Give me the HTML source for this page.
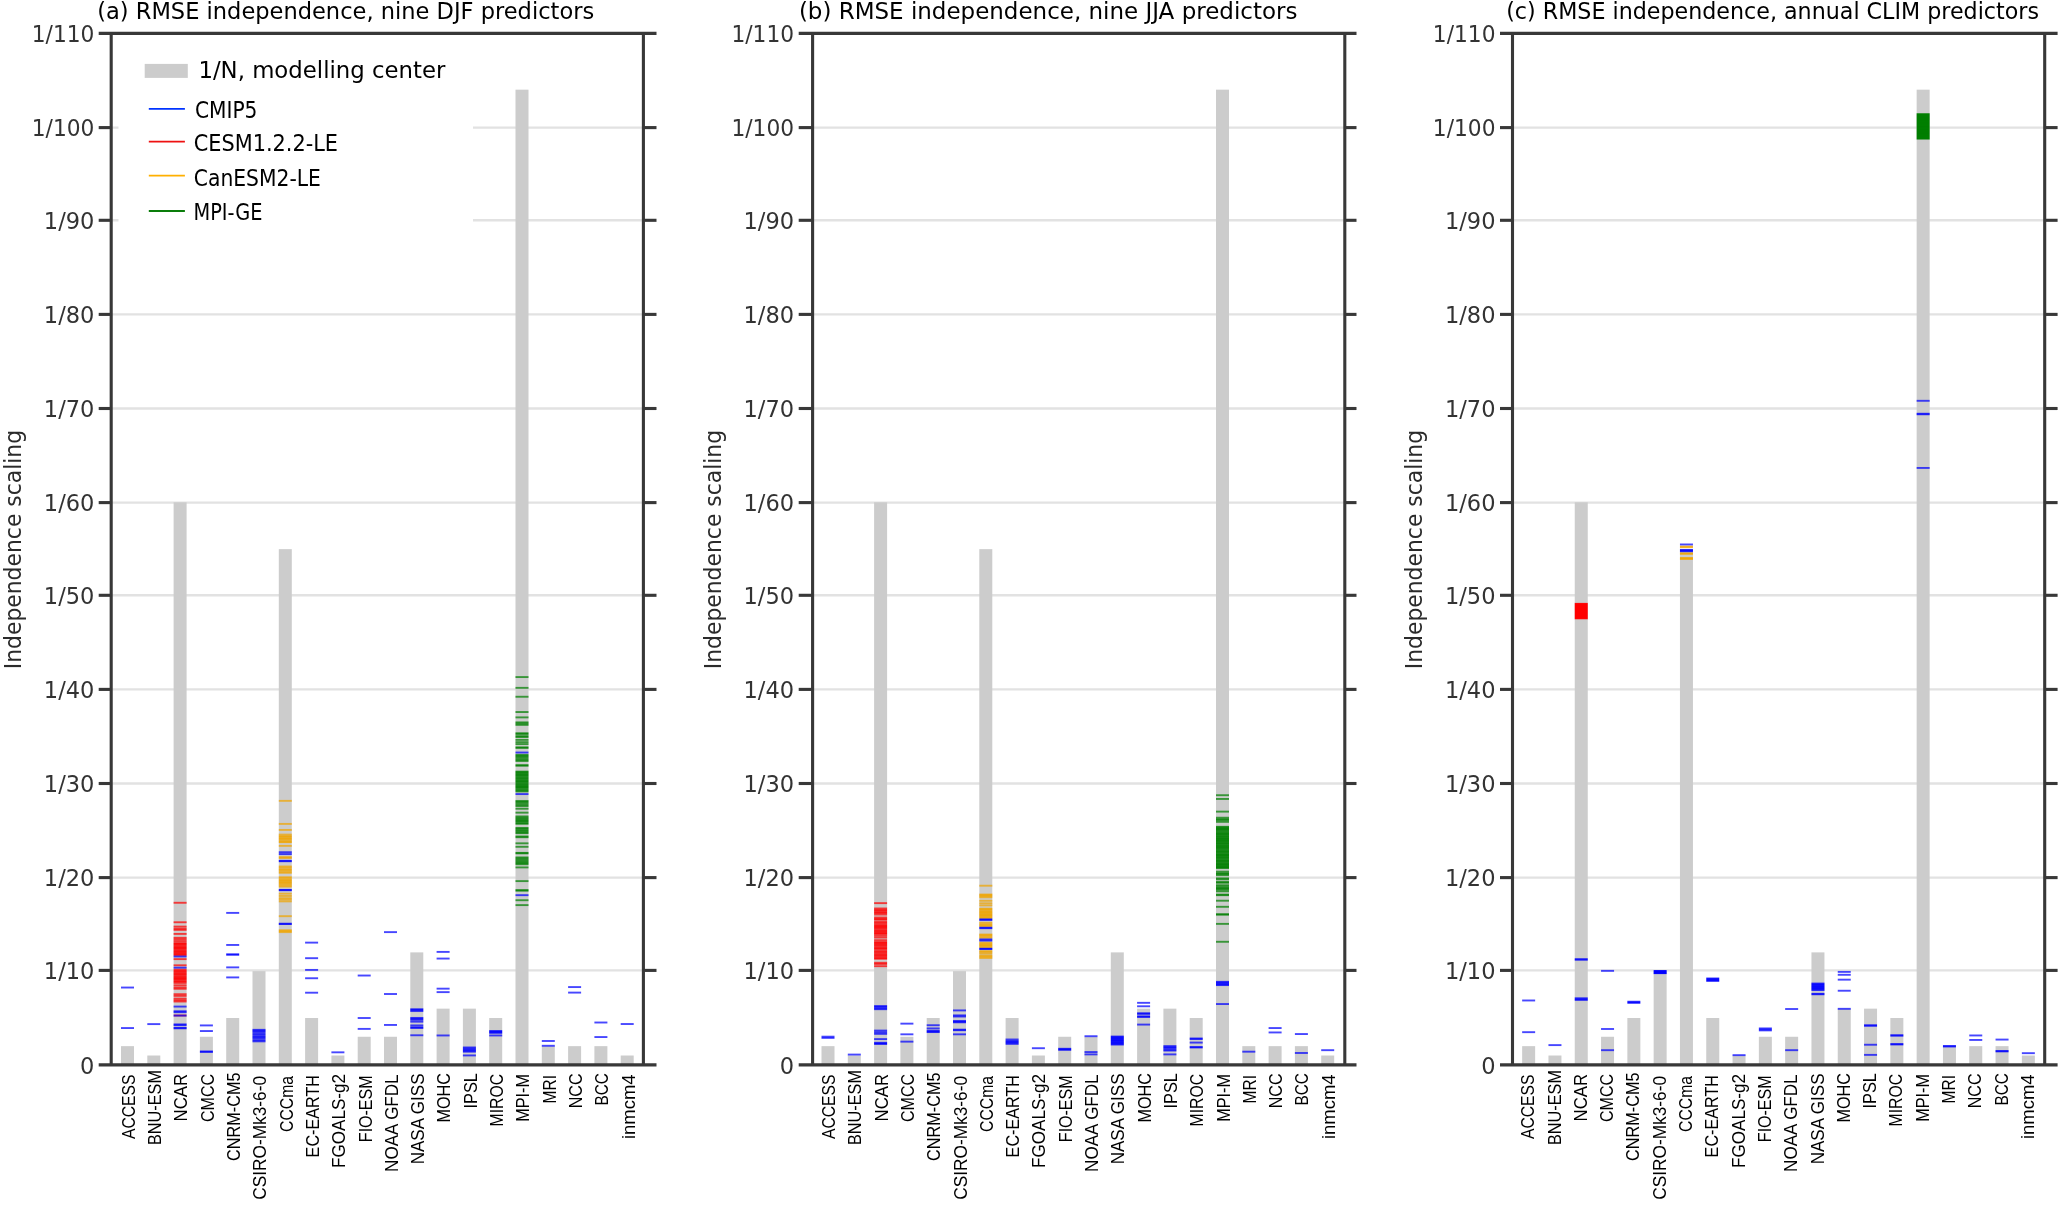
<!DOCTYPE html>
<html lang="en"><head><meta charset="utf-8"><title>RMSE independence scaling</title>
<style>html,body{margin:0;padding:0;background:#fff;overflow:hidden;}svg{display:block;will-change:transform;font-family:"Liberation Sans",Arial,Helvetica,sans-serif;}.t{font-family:"DejaVu Sans","Liberation Sans",sans-serif;font-size:23.2px;fill:#000;}.yl{font-family:"DejaVu Sans","Liberation Sans",sans-serif;font-size:22.9px;fill:#2b2b2b;}.yt{font-family:"DejaVu Sans","Liberation Sans",sans-serif;font-size:23.6px;fill:#333;text-anchor:end;}.xt{font-size:19px;fill:#000;text-anchor:end;}.lg{font-family:"DejaVu Sans","Liberation Sans",sans-serif;font-size:22.8px;fill:#000;}</style></head><body>
<svg width="2067" height="1205" viewBox="0 0 2067 1205">
<rect width="2067" height="1205" fill="#fff"/>
<g>
<line x1="111.2" y1="970.4" x2="643.4" y2="970.4" stroke="#e2e2e2" stroke-width="2.4"/>
<line x1="111.2" y1="877.6" x2="643.4" y2="877.6" stroke="#e2e2e2" stroke-width="2.4"/>
<line x1="111.2" y1="783.5" x2="643.4" y2="783.5" stroke="#e2e2e2" stroke-width="2.4"/>
<line x1="111.2" y1="689.4" x2="643.4" y2="689.4" stroke="#e2e2e2" stroke-width="2.4"/>
<line x1="111.2" y1="595.3" x2="643.4" y2="595.3" stroke="#e2e2e2" stroke-width="2.4"/>
<line x1="111.2" y1="502.6" x2="643.4" y2="502.6" stroke="#e2e2e2" stroke-width="2.4"/>
<line x1="111.2" y1="408.5" x2="643.4" y2="408.5" stroke="#e2e2e2" stroke-width="2.4"/>
<line x1="111.2" y1="314.4" x2="643.4" y2="314.4" stroke="#e2e2e2" stroke-width="2.4"/>
<line x1="111.2" y1="220.3" x2="643.4" y2="220.3" stroke="#e2e2e2" stroke-width="2.4"/>
<line x1="111.2" y1="127.6" x2="643.4" y2="127.6" stroke="#e2e2e2" stroke-width="2.4"/>
<rect x="118.5" y="40" width="354.5" height="200" fill="#fff"/>
<rect x="121" y="1046.15" width="13" height="18.75" fill="#cccccc"/>
<rect x="147.3" y="1055.52" width="13" height="9.38" fill="#cccccc"/>
<rect x="173.6" y="502.26" width="13" height="562.64" fill="#cccccc"/>
<rect x="199.9" y="1036.77" width="13" height="28.13" fill="#cccccc"/>
<rect x="226.2" y="1018.01" width="13" height="46.89" fill="#cccccc"/>
<rect x="252.5" y="971.13" width="13" height="93.77" fill="#cccccc"/>
<rect x="278.8" y="549.15" width="13" height="515.75" fill="#cccccc"/>
<rect x="305.1" y="1018.01" width="13" height="46.89" fill="#cccccc"/>
<rect x="331.4" y="1055.52" width="13" height="9.38" fill="#cccccc"/>
<rect x="357.7" y="1036.77" width="13" height="28.13" fill="#cccccc"/>
<rect x="384" y="1036.77" width="13" height="28.13" fill="#cccccc"/>
<rect x="410.3" y="952.37" width="13" height="112.53" fill="#cccccc"/>
<rect x="436.6" y="1008.64" width="13" height="56.26" fill="#cccccc"/>
<rect x="462.9" y="1008.64" width="13" height="56.26" fill="#cccccc"/>
<rect x="489.2" y="1018.01" width="13" height="46.89" fill="#cccccc"/>
<rect x="515.5" y="89.66" width="13" height="975.24" fill="#cccccc"/>
<rect x="541.8" y="1046.15" width="13" height="18.75" fill="#cccccc"/>
<rect x="568.1" y="1046.15" width="13" height="18.75" fill="#cccccc"/>
<rect x="594.4" y="1046.15" width="13" height="18.75" fill="#cccccc"/>
<rect x="620.7" y="1055.52" width="13" height="9.38" fill="#cccccc"/>
<mask id="m0" maskUnits="userSpaceOnUse" x="0" y="0" width="2067" height="1205">
<rect x="121" y="0" width="13" height="1205" fill="#fff"/>
<rect x="147.3" y="0" width="13" height="1205" fill="#fff"/>
<rect x="173.6" y="0" width="13" height="1205" fill="#fff"/>
<rect x="199.9" y="0" width="13" height="1205" fill="#fff"/>
<rect x="226.2" y="0" width="13" height="1205" fill="#fff"/>
<rect x="252.5" y="0" width="13" height="1205" fill="#fff"/>
<rect x="278.8" y="0" width="13" height="1205" fill="#fff"/>
<rect x="305.1" y="0" width="13" height="1205" fill="#fff"/>
<rect x="331.4" y="0" width="13" height="1205" fill="#fff"/>
<rect x="357.7" y="0" width="13" height="1205" fill="#fff"/>
<rect x="384" y="0" width="13" height="1205" fill="#fff"/>
<rect x="410.3" y="0" width="13" height="1205" fill="#fff"/>
<rect x="436.6" y="0" width="13" height="1205" fill="#fff"/>
<rect x="462.9" y="0" width="13" height="1205" fill="#fff"/>
<rect x="489.2" y="0" width="13" height="1205" fill="#fff"/>
<rect x="515.5" y="0" width="13" height="1205" fill="#fff"/>
<rect x="541.8" y="0" width="13" height="1205" fill="#fff"/>
<rect x="568.1" y="0" width="13" height="1205" fill="#fff"/>
<rect x="594.4" y="0" width="13" height="1205" fill="#fff"/>
<rect x="620.7" y="0" width="13" height="1205" fill="#fff"/>
</mask>
<g mask="url(#m0)">
<g fill="#0000ff" fill-opacity="0.72">
<rect x="120" y="986.59" width="15" height="1.9"/>
<rect x="120" y="1027.1" width="15" height="1.9"/>
</g>
<g fill="#0000ff" fill-opacity="0.72">
<rect x="146" y="1023.16" width="16" height="1.9"/>
</g>
<g fill="#ff0000" fill-opacity="0.72">
<rect x="172" y="901.82" width="16" height="1.9"/>
<rect x="172" y="921.32" width="16" height="1.9"/>
<rect x="172" y="928.92" width="16" height="1.9"/>
<rect x="172" y="927.68" width="16" height="1.9"/>
<rect x="172" y="925.64" width="16" height="1.9"/>
<rect x="172" y="932.95" width="16" height="1.9"/>
<rect x="172" y="940.17" width="16" height="1.9"/>
<rect x="172" y="938.39" width="16" height="1.9"/>
<rect x="172" y="936.86" width="16" height="1.9"/>
<rect x="172" y="954.24" width="16" height="1.9"/>
<rect x="172" y="953.29" width="16" height="1.9"/>
<rect x="172" y="952.66" width="16" height="1.9"/>
<rect x="172" y="951.47" width="16" height="1.9"/>
<rect x="172" y="950.77" width="16" height="1.9"/>
<rect x="172" y="949.82" width="16" height="1.9"/>
<rect x="172" y="948.66" width="16" height="1.9"/>
<rect x="172" y="947.46" width="16" height="1.9"/>
<rect x="172" y="946.98" width="16" height="1.9"/>
<rect x="172" y="945.98" width="16" height="1.9"/>
<rect x="172" y="944.77" width="16" height="1.9"/>
<rect x="172" y="943.63" width="16" height="1.9"/>
<rect x="172" y="942.93" width="16" height="1.9"/>
<rect x="172" y="942.11" width="16" height="1.9"/>
<rect x="172" y="958.17" width="16" height="1.9"/>
<rect x="172" y="964.36" width="16" height="1.9"/>
<rect x="172" y="980.53" width="16" height="1.9"/>
<rect x="172" y="980.17" width="16" height="1.9"/>
<rect x="172" y="978.58" width="16" height="1.9"/>
<rect x="172" y="977.97" width="16" height="1.9"/>
<rect x="172" y="977.06" width="16" height="1.9"/>
<rect x="172" y="976.06" width="16" height="1.9"/>
<rect x="172" y="974.91" width="16" height="1.9"/>
<rect x="172" y="973.53" width="16" height="1.9"/>
<rect x="172" y="972.97" width="16" height="1.9"/>
<rect x="172" y="971.67" width="16" height="1.9"/>
<rect x="172" y="970.61" width="16" height="1.9"/>
<rect x="172" y="969.78" width="16" height="1.9"/>
<rect x="172" y="968.68" width="16" height="1.9"/>
<rect x="172" y="987.81" width="16" height="1.9"/>
<rect x="172" y="986.47" width="16" height="1.9"/>
<rect x="172" y="984.33" width="16" height="1.9"/>
<rect x="172" y="981.99" width="16" height="1.9"/>
<rect x="172" y="993.25" width="16" height="1.9"/>
<rect x="172" y="994.93" width="16" height="1.9"/>
<rect x="172" y="1000.56" width="16" height="1.9"/>
<rect x="172" y="999.3" width="16" height="1.9"/>
<rect x="172" y="997.65" width="16" height="1.9"/>
<rect x="172" y="1014.53" width="16" height="1.9"/>
</g>
<g fill="#0000ff" fill-opacity="0.72">
<rect x="172" y="955.55" width="16" height="1.9"/>
<rect x="172" y="966.71" width="16" height="1.9"/>
<rect x="172" y="1005.62" width="16" height="1.9"/>
<rect x="172" y="1010.31" width="16" height="1.9"/>
<rect x="172" y="1011.25" width="16" height="1.9"/>
<rect x="172" y="1014.63" width="16" height="1.9"/>
<rect x="172" y="1023.44" width="16" height="1.9"/>
<rect x="172" y="1024.19" width="16" height="1.9"/>
<rect x="172" y="1026.91" width="16" height="1.9"/>
<rect x="172" y="1027.38" width="16" height="1.9"/>
</g>
<g fill="#0000ff" fill-opacity="0.72">
<rect x="198" y="1024.47" width="16" height="1.9"/>
<rect x="198" y="1030.1" width="16" height="1.9"/>
<rect x="198" y="1050.54" width="16" height="1.9"/>
<rect x="198" y="1050.92" width="16" height="1.9"/>
</g>
<g fill="#0000ff" fill-opacity="0.72">
<rect x="225" y="911.94" width="16" height="1.9"/>
<rect x="225" y="944.01" width="16" height="1.9"/>
<rect x="225" y="953.49" width="16" height="1.9"/>
<rect x="225" y="953.67" width="16" height="1.9"/>
<rect x="225" y="966.43" width="16" height="1.9"/>
<rect x="225" y="976.46" width="16" height="1.9"/>
</g>
<g fill="#0000ff" fill-opacity="0.72">
<rect x="251" y="1040.41" width="16" height="1.9"/>
<rect x="251" y="1039.29" width="16" height="1.9"/>
<rect x="251" y="1037.54" width="16" height="1.9"/>
<rect x="251" y="1036.32" width="16" height="1.9"/>
<rect x="251" y="1035.44" width="16" height="1.9"/>
<rect x="251" y="1033.83" width="16" height="1.9"/>
<rect x="251" y="1032.58" width="16" height="1.9"/>
<rect x="251" y="1030.95" width="16" height="1.9"/>
<rect x="251" y="1029.78" width="16" height="1.9"/>
<rect x="251" y="1028.88" width="16" height="1.9"/>
</g>
<g fill="#f0a500" fill-opacity="0.72">
<rect x="277" y="799.89" width="16" height="1.9"/>
<rect x="277" y="822.95" width="16" height="1.9"/>
<rect x="277" y="828.96" width="16" height="1.9"/>
<rect x="277" y="841.23" width="16" height="1.9"/>
<rect x="277" y="840.78" width="16" height="1.9"/>
<rect x="277" y="839.4" width="16" height="1.9"/>
<rect x="277" y="837.99" width="16" height="1.9"/>
<rect x="277" y="837.34" width="16" height="1.9"/>
<rect x="277" y="835.93" width="16" height="1.9"/>
<rect x="277" y="835.15" width="16" height="1.9"/>
<rect x="277" y="833.64" width="16" height="1.9"/>
<rect x="277" y="844.9" width="16" height="1.9"/>
<rect x="277" y="856.15" width="16" height="1.9"/>
<rect x="277" y="857.09" width="16" height="1.9"/>
<rect x="277" y="871.85" width="16" height="1.9"/>
<rect x="277" y="870.71" width="16" height="1.9"/>
<rect x="277" y="869.12" width="16" height="1.9"/>
<rect x="277" y="868.32" width="16" height="1.9"/>
<rect x="277" y="866.66" width="16" height="1.9"/>
<rect x="277" y="865.53" width="16" height="1.9"/>
<rect x="277" y="885.62" width="16" height="1.9"/>
<rect x="277" y="884.55" width="16" height="1.9"/>
<rect x="277" y="883.06" width="16" height="1.9"/>
<rect x="277" y="881.81" width="16" height="1.9"/>
<rect x="277" y="881.02" width="16" height="1.9"/>
<rect x="277" y="879.69" width="16" height="1.9"/>
<rect x="277" y="879.02" width="16" height="1.9"/>
<rect x="277" y="877.32" width="16" height="1.9"/>
<rect x="277" y="876.31" width="16" height="1.9"/>
<rect x="277" y="900.43" width="16" height="1.9"/>
<rect x="277" y="898.58" width="16" height="1.9"/>
<rect x="277" y="897.26" width="16" height="1.9"/>
<rect x="277" y="895" width="16" height="1.9"/>
<rect x="277" y="892.72" width="16" height="1.9"/>
<rect x="277" y="915.23" width="16" height="1.9"/>
<rect x="277" y="929.29" width="16" height="1.9"/>
<rect x="277" y="930.23" width="16" height="1.9"/>
<rect x="277" y="931.17" width="16" height="1.9"/>
</g>
<g fill="#0000ff" fill-opacity="0.72">
<rect x="277" y="851.27" width="16" height="1.9"/>
<rect x="277" y="853.15" width="16" height="1.9"/>
<rect x="277" y="859.9" width="16" height="1.9"/>
<rect x="277" y="860.28" width="16" height="1.9"/>
<rect x="277" y="888.97" width="16" height="1.9"/>
<rect x="277" y="889.25" width="16" height="1.9"/>
<rect x="277" y="922.73" width="16" height="1.9"/>
<rect x="277" y="923.1" width="16" height="1.9"/>
</g>
<g fill="#0000ff" fill-opacity="0.72">
<rect x="304" y="941.67" width="16" height="1.9"/>
<rect x="304" y="957.24" width="16" height="1.9"/>
<rect x="304" y="968.96" width="16" height="1.9"/>
<rect x="304" y="977.3" width="16" height="1.9"/>
<rect x="304" y="991.75" width="16" height="1.9"/>
</g>
<g fill="#0000ff" fill-opacity="0.72">
<rect x="330" y="1051.38" width="16" height="1.9"/>
</g>
<g fill="#0000ff" fill-opacity="0.72">
<rect x="356" y="974.58" width="16" height="1.9"/>
<rect x="356" y="1017.06" width="16" height="1.9"/>
<rect x="356" y="1027.94" width="16" height="1.9"/>
</g>
<g fill="#0000ff" fill-opacity="0.72">
<rect x="383" y="931.17" width="15" height="1.9"/>
<rect x="383" y="993.06" width="15" height="1.9"/>
<rect x="383" y="1024" width="15" height="1.9"/>
</g>
<g fill="#0000ff" fill-opacity="0.72">
<rect x="409" y="1008.25" width="16" height="1.9"/>
<rect x="409" y="1009" width="16" height="1.9"/>
<rect x="409" y="1010.12" width="16" height="1.9"/>
<rect x="409" y="1016.97" width="16" height="1.9"/>
<rect x="409" y="1017.81" width="16" height="1.9"/>
<rect x="409" y="1018.85" width="16" height="1.9"/>
<rect x="409" y="1020.72" width="16" height="1.9"/>
<rect x="409" y="1024.47" width="16" height="1.9"/>
<rect x="409" y="1026.35" width="16" height="1.9"/>
<rect x="409" y="1027" width="16" height="1.9"/>
<rect x="409" y="1034.32" width="16" height="1.9"/>
</g>
<g fill="#0000ff" fill-opacity="0.72">
<rect x="435" y="950.95" width="16" height="1.9"/>
<rect x="435" y="957.61" width="16" height="1.9"/>
<rect x="435" y="987.71" width="16" height="1.9"/>
<rect x="435" y="991.18" width="16" height="1.9"/>
<rect x="435" y="1034.51" width="16" height="1.9"/>
</g>
<g fill="#0000ff" fill-opacity="0.72">
<rect x="461" y="1046.51" width="16" height="1.9"/>
<rect x="461" y="1047.63" width="16" height="1.9"/>
<rect x="461" y="1048.85" width="16" height="1.9"/>
<rect x="461" y="1049.79" width="16" height="1.9"/>
<rect x="461" y="1050.73" width="16" height="1.9"/>
<rect x="461" y="1054.48" width="16" height="1.9"/>
</g>
<g fill="#0000ff" fill-opacity="0.72">
<rect x="488" y="1030.1" width="16" height="1.9"/>
<rect x="488" y="1030.57" width="16" height="1.9"/>
<rect x="488" y="1031.32" width="16" height="1.9"/>
<rect x="488" y="1031.88" width="16" height="1.9"/>
<rect x="488" y="1034.51" width="16" height="1.9"/>
</g>
<g fill="#008000" fill-opacity="0.72">
<rect x="514" y="676.11" width="16" height="1.9"/>
<rect x="514" y="686.89" width="16" height="1.9"/>
<rect x="514" y="695.8" width="16" height="1.9"/>
<rect x="514" y="711.08" width="16" height="1.9"/>
<rect x="514" y="716.43" width="16" height="1.9"/>
<rect x="514" y="723.93" width="16" height="1.9"/>
<rect x="514" y="722.56" width="16" height="1.9"/>
<rect x="514" y="721.44" width="16" height="1.9"/>
<rect x="514" y="736.12" width="16" height="1.9"/>
<rect x="514" y="735.15" width="16" height="1.9"/>
<rect x="514" y="733.04" width="16" height="1.9"/>
<rect x="514" y="732.27" width="16" height="1.9"/>
<rect x="514" y="743.15" width="16" height="1.9"/>
<rect x="514" y="741.2" width="16" height="1.9"/>
<rect x="514" y="738.93" width="16" height="1.9"/>
<rect x="514" y="746.44" width="16" height="1.9"/>
<rect x="514" y="746.9" width="16" height="1.9"/>
<rect x="514" y="760.03" width="16" height="1.9"/>
<rect x="514" y="758.86" width="16" height="1.9"/>
<rect x="514" y="757.55" width="16" height="1.9"/>
<rect x="514" y="756.05" width="16" height="1.9"/>
<rect x="514" y="754.88" width="16" height="1.9"/>
<rect x="514" y="753.94" width="16" height="1.9"/>
<rect x="514" y="764.25" width="16" height="1.9"/>
<rect x="514" y="764.72" width="16" height="1.9"/>
<rect x="514" y="790.51" width="16" height="1.9"/>
<rect x="514" y="789.61" width="16" height="1.9"/>
<rect x="514" y="788.68" width="16" height="1.9"/>
<rect x="514" y="787.37" width="16" height="1.9"/>
<rect x="514" y="786.36" width="16" height="1.9"/>
<rect x="514" y="785.94" width="16" height="1.9"/>
<rect x="514" y="784.97" width="16" height="1.9"/>
<rect x="514" y="783.97" width="16" height="1.9"/>
<rect x="514" y="783.01" width="16" height="1.9"/>
<rect x="514" y="781.88" width="16" height="1.9"/>
<rect x="514" y="780.85" width="16" height="1.9"/>
<rect x="514" y="780.11" width="16" height="1.9"/>
<rect x="514" y="779.32" width="16" height="1.9"/>
<rect x="514" y="778.08" width="16" height="1.9"/>
<rect x="514" y="777.16" width="16" height="1.9"/>
<rect x="514" y="776.06" width="16" height="1.9"/>
<rect x="514" y="774.84" width="16" height="1.9"/>
<rect x="514" y="774.06" width="16" height="1.9"/>
<rect x="514" y="773.22" width="16" height="1.9"/>
<rect x="514" y="772.19" width="16" height="1.9"/>
<rect x="514" y="771.19" width="16" height="1.9"/>
<rect x="514" y="770.65" width="16" height="1.9"/>
<rect x="514" y="805.12" width="16" height="1.9"/>
<rect x="514" y="803.83" width="16" height="1.9"/>
<rect x="514" y="802.33" width="16" height="1.9"/>
<rect x="514" y="801" width="16" height="1.9"/>
<rect x="514" y="799.99" width="16" height="1.9"/>
<rect x="514" y="807.76" width="16" height="1.9"/>
<rect x="514" y="811.7" width="16" height="1.9"/>
<rect x="514" y="822.86" width="16" height="1.9"/>
<rect x="514" y="822.09" width="16" height="1.9"/>
<rect x="514" y="820.62" width="16" height="1.9"/>
<rect x="514" y="819.97" width="16" height="1.9"/>
<rect x="514" y="818.9" width="16" height="1.9"/>
<rect x="514" y="817.72" width="16" height="1.9"/>
<rect x="514" y="816.68" width="16" height="1.9"/>
<rect x="514" y="815.48" width="16" height="1.9"/>
<rect x="514" y="832.24" width="16" height="1.9"/>
<rect x="514" y="831.51" width="16" height="1.9"/>
<rect x="514" y="830.26" width="16" height="1.9"/>
<rect x="514" y="829.18" width="16" height="1.9"/>
<rect x="514" y="827.84" width="16" height="1.9"/>
<rect x="514" y="826.98" width="16" height="1.9"/>
<rect x="514" y="835.52" width="16" height="1.9"/>
<rect x="514" y="836.27" width="16" height="1.9"/>
<rect x="514" y="842.37" width="16" height="1.9"/>
<rect x="514" y="845.83" width="16" height="1.9"/>
<rect x="514" y="851.93" width="16" height="1.9"/>
<rect x="514" y="852.4" width="16" height="1.9"/>
<rect x="514" y="863.32" width="16" height="1.9"/>
<rect x="514" y="862.3" width="16" height="1.9"/>
<rect x="514" y="861.46" width="16" height="1.9"/>
<rect x="514" y="860.12" width="16" height="1.9"/>
<rect x="514" y="858.78" width="16" height="1.9"/>
<rect x="514" y="857.52" width="16" height="1.9"/>
<rect x="514" y="856.48" width="16" height="1.9"/>
<rect x="514" y="866.46" width="16" height="1.9"/>
<rect x="514" y="880.16" width="16" height="1.9"/>
<rect x="514" y="889.16" width="16" height="1.9"/>
<rect x="514" y="889.72" width="16" height="1.9"/>
<rect x="514" y="899.29" width="16" height="1.9"/>
<rect x="514" y="904.16" width="16" height="1.9"/>
</g>
<g fill="#0000ff" fill-opacity="0.72">
<rect x="514" y="751.59" width="16" height="1.9"/>
<rect x="514" y="793.13" width="16" height="1.9"/>
<rect x="514" y="894.22" width="16" height="1.9"/>
</g>
<g fill="#0000ff" fill-opacity="0.72">
<rect x="540" y="1040.04" width="16" height="1.9"/>
<rect x="540" y="1044.82" width="16" height="1.9"/>
</g>
<g fill="#0000ff" fill-opacity="0.72">
<rect x="567" y="986.12" width="16" height="1.9"/>
<rect x="567" y="991.65" width="16" height="1.9"/>
</g>
<g fill="#0000ff" fill-opacity="0.72">
<rect x="593" y="1021.56" width="16" height="1.9"/>
<rect x="593" y="1036.1" width="16" height="1.9"/>
</g>
<g fill="#0000ff" fill-opacity="0.72">
<rect x="619" y="1023.07" width="16" height="1.9"/>
</g>
</g>
<g stroke="#383838" stroke-width="3.1" fill="none">
<line x1="98.7" y1="33.4" x2="656.5" y2="33.4"/>
<line x1="98.7" y1="1064.9" x2="656.5" y2="1064.9"/>
<line x1="111.2" y1="33.4" x2="111.2" y2="1064.9"/>
<line x1="643.4" y1="33.4" x2="643.4" y2="1064.9"/>
<line x1="98.7" y1="970.4" x2="111.2" y2="970.4"/>
<line x1="643.4" y1="970.4" x2="656.5" y2="970.4"/>
<line x1="98.7" y1="877.6" x2="111.2" y2="877.6"/>
<line x1="643.4" y1="877.6" x2="656.5" y2="877.6"/>
<line x1="98.7" y1="783.5" x2="111.2" y2="783.5"/>
<line x1="643.4" y1="783.5" x2="656.5" y2="783.5"/>
<line x1="98.7" y1="689.4" x2="111.2" y2="689.4"/>
<line x1="643.4" y1="689.4" x2="656.5" y2="689.4"/>
<line x1="98.7" y1="595.3" x2="111.2" y2="595.3"/>
<line x1="643.4" y1="595.3" x2="656.5" y2="595.3"/>
<line x1="98.7" y1="502.6" x2="111.2" y2="502.6"/>
<line x1="643.4" y1="502.6" x2="656.5" y2="502.6"/>
<line x1="98.7" y1="408.5" x2="111.2" y2="408.5"/>
<line x1="643.4" y1="408.5" x2="656.5" y2="408.5"/>
<line x1="98.7" y1="314.4" x2="111.2" y2="314.4"/>
<line x1="643.4" y1="314.4" x2="656.5" y2="314.4"/>
<line x1="98.7" y1="220.3" x2="111.2" y2="220.3"/>
<line x1="643.4" y1="220.3" x2="656.5" y2="220.3"/>
<line x1="98.7" y1="127.6" x2="111.2" y2="127.6"/>
<line x1="643.4" y1="127.6" x2="656.5" y2="127.6"/>
</g>
<text class="yt" transform="translate(94.4,1073.5) scale(0.955,1)">0</text>
<text class="yt" transform="translate(94.4,979) scale(0.955,1)">1/10</text>
<text class="yt" transform="translate(94.4,886.2) scale(0.955,1)">1/20</text>
<text class="yt" transform="translate(94.4,792.1) scale(0.955,1)">1/30</text>
<text class="yt" transform="translate(94.4,698) scale(0.955,1)">1/40</text>
<text class="yt" transform="translate(94.4,603.9) scale(0.955,1)">1/50</text>
<text class="yt" transform="translate(94.4,511.2) scale(0.955,1)">1/60</text>
<text class="yt" transform="translate(94.4,417.1) scale(0.955,1)">1/70</text>
<text class="yt" transform="translate(94.4,323) scale(0.955,1)">1/80</text>
<text class="yt" transform="translate(94.4,228.9) scale(0.955,1)">1/90</text>
<text class="yt" transform="translate(94.4,136.2) scale(0.922,1)">1/100</text>
<text class="yt" transform="translate(94.4,42) scale(0.922,1)">1/110</text>
<text class="xt" transform="translate(134.8,1074.5) rotate(-90)" textLength="64.59" lengthAdjust="spacingAndGlyphs">ACCESS</text>
<text class="xt" transform="translate(161.1,1070) rotate(-90)" textLength="75.04" lengthAdjust="spacingAndGlyphs">BNU-ESM</text>
<text class="xt" transform="translate(187.4,1074) rotate(-90)" textLength="47.48" lengthAdjust="spacingAndGlyphs">NCAR</text>
<text class="xt" transform="translate(213.7,1074) rotate(-90)" textLength="48.03" lengthAdjust="spacingAndGlyphs">CMCC</text>
<text class="xt" transform="translate(240,1072.5) rotate(-90)" textLength="88.39" lengthAdjust="spacingAndGlyphs">CNRM-CM5</text>
<text class="xt" transform="translate(266.3,1076) rotate(-90)" textLength="123.79" lengthAdjust="spacingAndGlyphs">CSIRO-Mk3-6-0</text>
<text class="xt" transform="translate(292.6,1076) rotate(-90)" textLength="55.99" lengthAdjust="spacingAndGlyphs">CCCma</text>
<text class="xt" transform="translate(318.9,1075) rotate(-90)" textLength="82.4" lengthAdjust="spacingAndGlyphs">EC-EARTH</text>
<text class="xt" transform="translate(345.2,1074) rotate(-90)" textLength="94" lengthAdjust="spacingAndGlyphs">FGOALS-g2</text>
<text class="xt" transform="translate(371.5,1075.5) rotate(-90)" textLength="66.63" lengthAdjust="spacingAndGlyphs">FIO-ESM</text>
<text class="xt" transform="translate(397.8,1074.5) rotate(-90)" textLength="97.39" lengthAdjust="spacingAndGlyphs">NOAA GFDL</text>
<text class="xt" transform="translate(424.1,1073.5) rotate(-90)" textLength="90.84" lengthAdjust="spacingAndGlyphs">NASA GISS</text>
<text class="xt" transform="translate(450.4,1073) rotate(-90)" textLength="49.6" lengthAdjust="spacingAndGlyphs">MOHC</text>
<text class="xt" transform="translate(476.7,1073) rotate(-90)" textLength="35.62" lengthAdjust="spacingAndGlyphs">IPSL</text>
<text class="xt" transform="translate(503,1074) rotate(-90)" textLength="52.45" lengthAdjust="spacingAndGlyphs">MIROC</text>
<text class="xt" transform="translate(529.3,1074) rotate(-90)" textLength="47.82" lengthAdjust="spacingAndGlyphs">MPI-M</text>
<text class="xt" transform="translate(555.6,1075) rotate(-90)" textLength="28.47" lengthAdjust="spacingAndGlyphs">MRI</text>
<text class="xt" transform="translate(581.9,1073.5) rotate(-90)" textLength="34.85" lengthAdjust="spacingAndGlyphs">NCC</text>
<text class="xt" transform="translate(608.2,1073) rotate(-90)" textLength="32.57" lengthAdjust="spacingAndGlyphs">BCC</text>
<text class="xt" transform="translate(634.5,1074.5) rotate(-90)" textLength="64.59" lengthAdjust="spacingAndGlyphs">inmcm4</text>
<text class="yl" transform="translate(21.2,669.3) rotate(-90)" textLength="239.4" lengthAdjust="spacingAndGlyphs">Independence scaling</text>
<text class="t" x="97.2" y="18.9" textLength="497" lengthAdjust="spacingAndGlyphs">(a) RMSE independence, nine DJF predictors</text>
</g>
<g>
<line x1="812.6" y1="970.4" x2="1344.8" y2="970.4" stroke="#e2e2e2" stroke-width="2.4"/>
<line x1="812.6" y1="877.6" x2="1344.8" y2="877.6" stroke="#e2e2e2" stroke-width="2.4"/>
<line x1="812.6" y1="783.5" x2="1344.8" y2="783.5" stroke="#e2e2e2" stroke-width="2.4"/>
<line x1="812.6" y1="689.4" x2="1344.8" y2="689.4" stroke="#e2e2e2" stroke-width="2.4"/>
<line x1="812.6" y1="595.3" x2="1344.8" y2="595.3" stroke="#e2e2e2" stroke-width="2.4"/>
<line x1="812.6" y1="502.6" x2="1344.8" y2="502.6" stroke="#e2e2e2" stroke-width="2.4"/>
<line x1="812.6" y1="408.5" x2="1344.8" y2="408.5" stroke="#e2e2e2" stroke-width="2.4"/>
<line x1="812.6" y1="314.4" x2="1344.8" y2="314.4" stroke="#e2e2e2" stroke-width="2.4"/>
<line x1="812.6" y1="220.3" x2="1344.8" y2="220.3" stroke="#e2e2e2" stroke-width="2.4"/>
<line x1="812.6" y1="127.6" x2="1344.8" y2="127.6" stroke="#e2e2e2" stroke-width="2.4"/>
<rect x="821.5" y="1046.15" width="13" height="18.75" fill="#cccccc"/>
<rect x="847.8" y="1055.52" width="13" height="9.38" fill="#cccccc"/>
<rect x="874.1" y="502.26" width="13" height="562.64" fill="#cccccc"/>
<rect x="900.4" y="1036.77" width="13" height="28.13" fill="#cccccc"/>
<rect x="926.7" y="1018.01" width="13" height="46.89" fill="#cccccc"/>
<rect x="953" y="971.13" width="13" height="93.77" fill="#cccccc"/>
<rect x="979.3" y="549.15" width="13" height="515.75" fill="#cccccc"/>
<rect x="1005.6" y="1018.01" width="13" height="46.89" fill="#cccccc"/>
<rect x="1031.9" y="1055.52" width="13" height="9.38" fill="#cccccc"/>
<rect x="1058.2" y="1036.77" width="13" height="28.13" fill="#cccccc"/>
<rect x="1084.5" y="1036.77" width="13" height="28.13" fill="#cccccc"/>
<rect x="1110.8" y="952.37" width="13" height="112.53" fill="#cccccc"/>
<rect x="1137.1" y="1008.64" width="13" height="56.26" fill="#cccccc"/>
<rect x="1163.4" y="1008.64" width="13" height="56.26" fill="#cccccc"/>
<rect x="1189.7" y="1018.01" width="13" height="46.89" fill="#cccccc"/>
<rect x="1216" y="89.66" width="13" height="975.24" fill="#cccccc"/>
<rect x="1242.3" y="1046.15" width="13" height="18.75" fill="#cccccc"/>
<rect x="1268.6" y="1046.15" width="13" height="18.75" fill="#cccccc"/>
<rect x="1294.9" y="1046.15" width="13" height="18.75" fill="#cccccc"/>
<rect x="1321.2" y="1055.52" width="13" height="9.38" fill="#cccccc"/>
<mask id="m1" maskUnits="userSpaceOnUse" x="0" y="0" width="2067" height="1205">
<rect x="821.5" y="0" width="13" height="1205" fill="#fff"/>
<rect x="847.8" y="0" width="13" height="1205" fill="#fff"/>
<rect x="874.1" y="0" width="13" height="1205" fill="#fff"/>
<rect x="900.4" y="0" width="13" height="1205" fill="#fff"/>
<rect x="926.7" y="0" width="13" height="1205" fill="#fff"/>
<rect x="953" y="0" width="13" height="1205" fill="#fff"/>
<rect x="979.3" y="0" width="13" height="1205" fill="#fff"/>
<rect x="1005.6" y="0" width="13" height="1205" fill="#fff"/>
<rect x="1031.9" y="0" width="13" height="1205" fill="#fff"/>
<rect x="1058.2" y="0" width="13" height="1205" fill="#fff"/>
<rect x="1084.5" y="0" width="13" height="1205" fill="#fff"/>
<rect x="1110.8" y="0" width="13" height="1205" fill="#fff"/>
<rect x="1137.1" y="0" width="13" height="1205" fill="#fff"/>
<rect x="1163.4" y="0" width="13" height="1205" fill="#fff"/>
<rect x="1189.7" y="0" width="13" height="1205" fill="#fff"/>
<rect x="1216" y="0" width="13" height="1205" fill="#fff"/>
<rect x="1242.3" y="0" width="13" height="1205" fill="#fff"/>
<rect x="1268.6" y="0" width="13" height="1205" fill="#fff"/>
<rect x="1294.9" y="0" width="13" height="1205" fill="#fff"/>
<rect x="1321.2" y="0" width="13" height="1205" fill="#fff"/>
</mask>
<g mask="url(#m1)">
<g fill="#0000ff" fill-opacity="0.72">
<rect x="820" y="1035.72" width="16" height="1.9"/>
<rect x="820" y="1036.94" width="16" height="1.9"/>
</g>
<g fill="#0000ff" fill-opacity="0.72">
<rect x="846" y="1053.63" width="16" height="1.9"/>
</g>
<g fill="#ff0000" fill-opacity="0.72">
<rect x="873" y="902.19" width="16" height="1.9"/>
<rect x="873" y="913.58" width="16" height="1.9"/>
<rect x="873" y="912.1" width="16" height="1.9"/>
<rect x="873" y="911.25" width="16" height="1.9"/>
<rect x="873" y="909.88" width="16" height="1.9"/>
<rect x="873" y="908.9" width="16" height="1.9"/>
<rect x="873" y="907.54" width="16" height="1.9"/>
<rect x="873" y="922.07" width="16" height="1.9"/>
<rect x="873" y="920.82" width="16" height="1.9"/>
<rect x="873" y="918.73" width="16" height="1.9"/>
<rect x="873" y="917.93" width="16" height="1.9"/>
<rect x="873" y="916.57" width="16" height="1.9"/>
<rect x="873" y="933.02" width="16" height="1.9"/>
<rect x="873" y="932.33" width="16" height="1.9"/>
<rect x="873" y="931.62" width="16" height="1.9"/>
<rect x="873" y="930.37" width="16" height="1.9"/>
<rect x="873" y="929.75" width="16" height="1.9"/>
<rect x="873" y="928.43" width="16" height="1.9"/>
<rect x="873" y="927.15" width="16" height="1.9"/>
<rect x="873" y="926.25" width="16" height="1.9"/>
<rect x="873" y="925.39" width="16" height="1.9"/>
<rect x="873" y="924.71" width="16" height="1.9"/>
<rect x="873" y="923.66" width="16" height="1.9"/>
<rect x="873" y="939.23" width="16" height="1.9"/>
<rect x="873" y="936.61" width="16" height="1.9"/>
<rect x="873" y="934.82" width="16" height="1.9"/>
<rect x="873" y="948.04" width="16" height="1.9"/>
<rect x="873" y="947.34" width="16" height="1.9"/>
<rect x="873" y="946.4" width="16" height="1.9"/>
<rect x="873" y="944.96" width="16" height="1.9"/>
<rect x="873" y="943.82" width="16" height="1.9"/>
<rect x="873" y="942.89" width="16" height="1.9"/>
<rect x="873" y="941.91" width="16" height="1.9"/>
<rect x="873" y="941.11" width="16" height="1.9"/>
<rect x="873" y="957.79" width="16" height="1.9"/>
<rect x="873" y="957.03" width="16" height="1.9"/>
<rect x="873" y="955.61" width="16" height="1.9"/>
<rect x="873" y="954.57" width="16" height="1.9"/>
<rect x="873" y="953.66" width="16" height="1.9"/>
<rect x="873" y="952.48" width="16" height="1.9"/>
<rect x="873" y="951.1" width="16" height="1.9"/>
<rect x="873" y="949.93" width="16" height="1.9"/>
<rect x="873" y="965.24" width="16" height="1.9"/>
<rect x="873" y="963.01" width="16" height="1.9"/>
<rect x="873" y="961.81" width="16" height="1.9"/>
</g>
<g fill="#0000ff" fill-opacity="0.72">
<rect x="873" y="1005.06" width="16" height="1.9"/>
<rect x="873" y="1006" width="16" height="1.9"/>
<rect x="873" y="1007.41" width="16" height="1.9"/>
<rect x="873" y="1008.25" width="16" height="1.9"/>
<rect x="873" y="1029.63" width="16" height="1.9"/>
<rect x="873" y="1031.32" width="16" height="1.9"/>
<rect x="873" y="1032.91" width="16" height="1.9"/>
<rect x="873" y="1038.16" width="16" height="1.9"/>
<rect x="873" y="1041.82" width="16" height="1.9"/>
<rect x="873" y="1042.57" width="16" height="1.9"/>
<rect x="873" y="1042.94" width="16" height="1.9"/>
</g>
<g fill="#0000ff" fill-opacity="0.72">
<rect x="899" y="1022.69" width="16" height="1.9"/>
<rect x="899" y="1033.38" width="16" height="1.9"/>
<rect x="899" y="1040.69" width="16" height="1.9"/>
</g>
<g fill="#0000ff" fill-opacity="0.72">
<rect x="925" y="1024.28" width="16" height="1.9"/>
<rect x="925" y="1027.47" width="16" height="1.9"/>
<rect x="925" y="1029.82" width="16" height="1.9"/>
<rect x="925" y="1030.57" width="16" height="1.9"/>
<rect x="925" y="1031.13" width="16" height="1.9"/>
</g>
<g fill="#0000ff" fill-opacity="0.72">
<rect x="952" y="1009.47" width="15" height="1.9"/>
<rect x="952" y="1014.44" width="15" height="1.9"/>
<rect x="952" y="1015.56" width="15" height="1.9"/>
<rect x="952" y="1020.06" width="15" height="1.9"/>
<rect x="952" y="1020.72" width="15" height="1.9"/>
<rect x="952" y="1021.38" width="15" height="1.9"/>
<rect x="952" y="1028.69" width="15" height="1.9"/>
<rect x="952" y="1029.25" width="15" height="1.9"/>
<rect x="952" y="1033.38" width="15" height="1.9"/>
</g>
<g fill="#f0a500" fill-opacity="0.72">
<rect x="978" y="884.75" width="16" height="1.9"/>
<rect x="978" y="896.33" width="16" height="1.9"/>
<rect x="978" y="895.23" width="16" height="1.9"/>
<rect x="978" y="894.2" width="16" height="1.9"/>
<rect x="978" y="893.57" width="16" height="1.9"/>
<rect x="978" y="904.44" width="16" height="1.9"/>
<rect x="978" y="902.36" width="16" height="1.9"/>
<rect x="978" y="899.83" width="16" height="1.9"/>
<rect x="978" y="917.1" width="16" height="1.9"/>
<rect x="978" y="916.08" width="16" height="1.9"/>
<rect x="978" y="914.96" width="16" height="1.9"/>
<rect x="978" y="914.07" width="16" height="1.9"/>
<rect x="978" y="913.36" width="16" height="1.9"/>
<rect x="978" y="912.31" width="16" height="1.9"/>
<rect x="978" y="911.28" width="16" height="1.9"/>
<rect x="978" y="910.81" width="16" height="1.9"/>
<rect x="978" y="909.49" width="16" height="1.9"/>
<rect x="978" y="908.39" width="16" height="1.9"/>
<rect x="978" y="907.72" width="16" height="1.9"/>
<rect x="978" y="925.32" width="16" height="1.9"/>
<rect x="978" y="924.31" width="16" height="1.9"/>
<rect x="978" y="923.32" width="16" height="1.9"/>
<rect x="978" y="921.79" width="16" height="1.9"/>
<rect x="978" y="936.79" width="16" height="1.9"/>
<rect x="978" y="935.47" width="16" height="1.9"/>
<rect x="978" y="934.24" width="16" height="1.9"/>
<rect x="978" y="933.59" width="16" height="1.9"/>
<rect x="978" y="946.92" width="16" height="1.9"/>
<rect x="978" y="945.49" width="16" height="1.9"/>
<rect x="978" y="944.57" width="16" height="1.9"/>
<rect x="978" y="943.91" width="16" height="1.9"/>
<rect x="978" y="942.85" width="16" height="1.9"/>
<rect x="978" y="941.75" width="16" height="1.9"/>
<rect x="978" y="957.01" width="16" height="1.9"/>
<rect x="978" y="955.67" width="16" height="1.9"/>
<rect x="978" y="954.89" width="16" height="1.9"/>
<rect x="978" y="952.76" width="16" height="1.9"/>
<rect x="978" y="951.16" width="16" height="1.9"/>
<rect x="978" y="950.2" width="16" height="1.9"/>
</g>
<g fill="#0000ff" fill-opacity="0.72">
<rect x="978" y="918.41" width="16" height="1.9"/>
<rect x="978" y="918.98" width="16" height="1.9"/>
<rect x="978" y="926.76" width="16" height="1.9"/>
<rect x="978" y="927.23" width="16" height="1.9"/>
<rect x="978" y="938.48" width="16" height="1.9"/>
<rect x="978" y="939.61" width="16" height="1.9"/>
<rect x="978" y="947.77" width="16" height="1.9"/>
<rect x="978" y="948.05" width="16" height="1.9"/>
</g>
<g fill="#0000ff" fill-opacity="0.72">
<rect x="1004" y="1042.94" width="16" height="1.9"/>
<rect x="1004" y="1041.81" width="16" height="1.9"/>
<rect x="1004" y="1041.03" width="16" height="1.9"/>
<rect x="1004" y="1040.01" width="16" height="1.9"/>
<rect x="1004" y="1038.54" width="16" height="1.9"/>
</g>
<g fill="#0000ff" fill-opacity="0.72">
<rect x="1030" y="1047.26" width="16" height="1.9"/>
</g>
<g fill="#0000ff" fill-opacity="0.72">
<rect x="1057" y="1047.82" width="16" height="1.9"/>
<rect x="1057" y="1048.38" width="16" height="1.9"/>
<rect x="1057" y="1048.85" width="16" height="1.9"/>
</g>
<g fill="#0000ff" fill-opacity="0.72">
<rect x="1083" y="1035.26" width="16" height="1.9"/>
<rect x="1083" y="1051.1" width="16" height="1.9"/>
<rect x="1083" y="1053.45" width="16" height="1.9"/>
</g>
<g fill="#0000ff" fill-opacity="0.72">
<rect x="1109" y="1043.62" width="16" height="1.9"/>
<rect x="1109" y="1042.93" width="16" height="1.9"/>
<rect x="1109" y="1041.97" width="16" height="1.9"/>
<rect x="1109" y="1041.48" width="16" height="1.9"/>
<rect x="1109" y="1040.5" width="16" height="1.9"/>
<rect x="1109" y="1039.77" width="16" height="1.9"/>
<rect x="1109" y="1039.35" width="16" height="1.9"/>
<rect x="1109" y="1038.57" width="16" height="1.9"/>
<rect x="1109" y="1037.8" width="16" height="1.9"/>
<rect x="1109" y="1037.08" width="16" height="1.9"/>
<rect x="1109" y="1036.15" width="16" height="1.9"/>
<rect x="1109" y="1035.57" width="16" height="1.9"/>
</g>
<g fill="#0000ff" fill-opacity="0.72">
<rect x="1136" y="1001.87" width="16" height="1.9"/>
<rect x="1136" y="1005.34" width="16" height="1.9"/>
<rect x="1136" y="1012.28" width="16" height="1.9"/>
<rect x="1136" y="1012.94" width="16" height="1.9"/>
<rect x="1136" y="1015.38" width="16" height="1.9"/>
<rect x="1136" y="1016.03" width="16" height="1.9"/>
<rect x="1136" y="1023.63" width="16" height="1.9"/>
</g>
<g fill="#0000ff" fill-opacity="0.72">
<rect x="1162" y="1049.6" width="16" height="1.9"/>
<rect x="1162" y="1048.77" width="16" height="1.9"/>
<rect x="1162" y="1047.03" width="16" height="1.9"/>
<rect x="1162" y="1046.34" width="16" height="1.9"/>
<rect x="1162" y="1045.13" width="16" height="1.9"/>
<rect x="1162" y="1053.45" width="16" height="1.9"/>
</g>
<g fill="#0000ff" fill-opacity="0.72">
<rect x="1188" y="1037.51" width="16" height="1.9"/>
<rect x="1188" y="1038.07" width="16" height="1.9"/>
<rect x="1188" y="1041.63" width="16" height="1.9"/>
<rect x="1188" y="1046.13" width="16" height="1.9"/>
<rect x="1188" y="1046.51" width="16" height="1.9"/>
</g>
<g fill="#008000" fill-opacity="0.72">
<rect x="1215" y="794.26" width="15" height="1.9"/>
<rect x="1215" y="798.01" width="15" height="1.9"/>
<rect x="1215" y="810.67" width="15" height="1.9"/>
<rect x="1215" y="820.9" width="15" height="1.9"/>
<rect x="1215" y="819.18" width="15" height="1.9"/>
<rect x="1215" y="818.25" width="15" height="1.9"/>
<rect x="1215" y="816.77" width="15" height="1.9"/>
<rect x="1215" y="829.42" width="15" height="1.9"/>
<rect x="1215" y="828.66" width="15" height="1.9"/>
<rect x="1215" y="827.91" width="15" height="1.9"/>
<rect x="1215" y="827.43" width="15" height="1.9"/>
<rect x="1215" y="826.46" width="15" height="1.9"/>
<rect x="1215" y="825.84" width="15" height="1.9"/>
<rect x="1215" y="834.11" width="15" height="1.9"/>
<rect x="1215" y="833.06" width="15" height="1.9"/>
<rect x="1215" y="832.58" width="15" height="1.9"/>
<rect x="1215" y="831.53" width="15" height="1.9"/>
<rect x="1215" y="830.64" width="15" height="1.9"/>
<rect x="1215" y="842.99" width="15" height="1.9"/>
<rect x="1215" y="842.34" width="15" height="1.9"/>
<rect x="1215" y="841.45" width="15" height="1.9"/>
<rect x="1215" y="840.66" width="15" height="1.9"/>
<rect x="1215" y="839.75" width="15" height="1.9"/>
<rect x="1215" y="839.34" width="15" height="1.9"/>
<rect x="1215" y="838.32" width="15" height="1.9"/>
<rect x="1215" y="837.71" width="15" height="1.9"/>
<rect x="1215" y="836.92" width="15" height="1.9"/>
<rect x="1215" y="835.87" width="15" height="1.9"/>
<rect x="1215" y="835.24" width="15" height="1.9"/>
<rect x="1215" y="848.14" width="15" height="1.9"/>
<rect x="1215" y="847.23" width="15" height="1.9"/>
<rect x="1215" y="846.33" width="15" height="1.9"/>
<rect x="1215" y="845.79" width="15" height="1.9"/>
<rect x="1215" y="844.89" width="15" height="1.9"/>
<rect x="1215" y="844.15" width="15" height="1.9"/>
<rect x="1215" y="851.92" width="15" height="1.9"/>
<rect x="1215" y="850.94" width="15" height="1.9"/>
<rect x="1215" y="850.21" width="15" height="1.9"/>
<rect x="1215" y="849.3" width="15" height="1.9"/>
<rect x="1215" y="858.03" width="15" height="1.9"/>
<rect x="1215" y="856.94" width="15" height="1.9"/>
<rect x="1215" y="856.25" width="15" height="1.9"/>
<rect x="1215" y="855.32" width="15" height="1.9"/>
<rect x="1215" y="854.46" width="15" height="1.9"/>
<rect x="1215" y="854.02" width="15" height="1.9"/>
<rect x="1215" y="853.06" width="15" height="1.9"/>
<rect x="1215" y="867.17" width="15" height="1.9"/>
<rect x="1215" y="866.47" width="15" height="1.9"/>
<rect x="1215" y="866.09" width="15" height="1.9"/>
<rect x="1215" y="865.35" width="15" height="1.9"/>
<rect x="1215" y="864.43" width="15" height="1.9"/>
<rect x="1215" y="863.88" width="15" height="1.9"/>
<rect x="1215" y="863.04" width="15" height="1.9"/>
<rect x="1215" y="862.38" width="15" height="1.9"/>
<rect x="1215" y="861.31" width="15" height="1.9"/>
<rect x="1215" y="860.5" width="15" height="1.9"/>
<rect x="1215" y="859.69" width="15" height="1.9"/>
<rect x="1215" y="859.33" width="15" height="1.9"/>
<rect x="1215" y="874.25" width="15" height="1.9"/>
<rect x="1215" y="873.04" width="15" height="1.9"/>
<rect x="1215" y="872.25" width="15" height="1.9"/>
<rect x="1215" y="870.68" width="15" height="1.9"/>
<rect x="1215" y="881.84" width="15" height="1.9"/>
<rect x="1215" y="881.02" width="15" height="1.9"/>
<rect x="1215" y="878.42" width="15" height="1.9"/>
<rect x="1215" y="877.37" width="15" height="1.9"/>
<rect x="1215" y="890.38" width="15" height="1.9"/>
<rect x="1215" y="888.74" width="15" height="1.9"/>
<rect x="1215" y="887.65" width="15" height="1.9"/>
<rect x="1215" y="887.01" width="15" height="1.9"/>
<rect x="1215" y="885.56" width="15" height="1.9"/>
<rect x="1215" y="884.28" width="15" height="1.9"/>
<rect x="1215" y="893.66" width="15" height="1.9"/>
<rect x="1215" y="894.22" width="15" height="1.9"/>
<rect x="1215" y="899.75" width="15" height="1.9"/>
<rect x="1215" y="905.85" width="15" height="1.9"/>
<rect x="1215" y="913.35" width="15" height="1.9"/>
<rect x="1215" y="913.63" width="15" height="1.9"/>
<rect x="1215" y="922.92" width="15" height="1.9"/>
<rect x="1215" y="940.83" width="15" height="1.9"/>
</g>
<g fill="#0000ff" fill-opacity="0.72">
<rect x="1215" y="980.87" width="15" height="1.9"/>
<rect x="1215" y="981.62" width="15" height="1.9"/>
<rect x="1215" y="982.56" width="15" height="1.9"/>
<rect x="1215" y="983.49" width="15" height="1.9"/>
<rect x="1215" y="984.15" width="15" height="1.9"/>
<rect x="1215" y="1003.09" width="15" height="1.9"/>
</g>
<g fill="#0000ff" fill-opacity="0.72">
<rect x="1241" y="1050.73" width="16" height="1.9"/>
</g>
<g fill="#0000ff" fill-opacity="0.72">
<rect x="1267" y="1027.1" width="16" height="1.9"/>
<rect x="1267" y="1031.5" width="16" height="1.9"/>
</g>
<g fill="#0000ff" fill-opacity="0.72">
<rect x="1293" y="1033.1" width="16" height="1.9"/>
<rect x="1293" y="1052.04" width="16" height="1.9"/>
</g>
<g fill="#0000ff" fill-opacity="0.72">
<rect x="1320" y="1049.23" width="16" height="1.9"/>
</g>
</g>
<g stroke="#383838" stroke-width="3.1" fill="none">
<line x1="798.7" y1="33.4" x2="1356.5" y2="33.4"/>
<line x1="798.7" y1="1064.9" x2="1356.5" y2="1064.9"/>
<line x1="812.6" y1="33.4" x2="812.6" y2="1064.9"/>
<line x1="1344.8" y1="33.4" x2="1344.8" y2="1064.9"/>
<line x1="798.7" y1="970.4" x2="812.6" y2="970.4"/>
<line x1="1344.8" y1="970.4" x2="1356.5" y2="970.4"/>
<line x1="798.7" y1="877.6" x2="812.6" y2="877.6"/>
<line x1="1344.8" y1="877.6" x2="1356.5" y2="877.6"/>
<line x1="798.7" y1="783.5" x2="812.6" y2="783.5"/>
<line x1="1344.8" y1="783.5" x2="1356.5" y2="783.5"/>
<line x1="798.7" y1="689.4" x2="812.6" y2="689.4"/>
<line x1="1344.8" y1="689.4" x2="1356.5" y2="689.4"/>
<line x1="798.7" y1="595.3" x2="812.6" y2="595.3"/>
<line x1="1344.8" y1="595.3" x2="1356.5" y2="595.3"/>
<line x1="798.7" y1="502.6" x2="812.6" y2="502.6"/>
<line x1="1344.8" y1="502.6" x2="1356.5" y2="502.6"/>
<line x1="798.7" y1="408.5" x2="812.6" y2="408.5"/>
<line x1="1344.8" y1="408.5" x2="1356.5" y2="408.5"/>
<line x1="798.7" y1="314.4" x2="812.6" y2="314.4"/>
<line x1="1344.8" y1="314.4" x2="1356.5" y2="314.4"/>
<line x1="798.7" y1="220.3" x2="812.6" y2="220.3"/>
<line x1="1344.8" y1="220.3" x2="1356.5" y2="220.3"/>
<line x1="798.7" y1="127.6" x2="812.6" y2="127.6"/>
<line x1="1344.8" y1="127.6" x2="1356.5" y2="127.6"/>
</g>
<text class="yt" transform="translate(794.1,1073.5) scale(0.955,1)">0</text>
<text class="yt" transform="translate(794.1,979) scale(0.955,1)">1/10</text>
<text class="yt" transform="translate(794.1,886.2) scale(0.955,1)">1/20</text>
<text class="yt" transform="translate(794.1,792.1) scale(0.955,1)">1/30</text>
<text class="yt" transform="translate(794.1,698) scale(0.955,1)">1/40</text>
<text class="yt" transform="translate(794.1,603.9) scale(0.955,1)">1/50</text>
<text class="yt" transform="translate(794.1,511.2) scale(0.955,1)">1/60</text>
<text class="yt" transform="translate(794.1,417.1) scale(0.955,1)">1/70</text>
<text class="yt" transform="translate(794.1,323) scale(0.955,1)">1/80</text>
<text class="yt" transform="translate(794.1,228.9) scale(0.955,1)">1/90</text>
<text class="yt" transform="translate(794.1,136.2) scale(0.922,1)">1/100</text>
<text class="yt" transform="translate(794.1,42) scale(0.922,1)">1/110</text>
<text class="xt" transform="translate(835,1074.5) rotate(-90)" textLength="64.59" lengthAdjust="spacingAndGlyphs">ACCESS</text>
<text class="xt" transform="translate(861.3,1070) rotate(-90)" textLength="75.04" lengthAdjust="spacingAndGlyphs">BNU-ESM</text>
<text class="xt" transform="translate(887.6,1074) rotate(-90)" textLength="47.48" lengthAdjust="spacingAndGlyphs">NCAR</text>
<text class="xt" transform="translate(913.9,1074) rotate(-90)" textLength="48.03" lengthAdjust="spacingAndGlyphs">CMCC</text>
<text class="xt" transform="translate(940.2,1072.5) rotate(-90)" textLength="88.39" lengthAdjust="spacingAndGlyphs">CNRM-CM5</text>
<text class="xt" transform="translate(966.5,1076) rotate(-90)" textLength="123.79" lengthAdjust="spacingAndGlyphs">CSIRO-Mk3-6-0</text>
<text class="xt" transform="translate(992.8,1076) rotate(-90)" textLength="55.99" lengthAdjust="spacingAndGlyphs">CCCma</text>
<text class="xt" transform="translate(1019.1,1075) rotate(-90)" textLength="82.4" lengthAdjust="spacingAndGlyphs">EC-EARTH</text>
<text class="xt" transform="translate(1045.4,1074) rotate(-90)" textLength="94" lengthAdjust="spacingAndGlyphs">FGOALS-g2</text>
<text class="xt" transform="translate(1071.7,1075.5) rotate(-90)" textLength="66.63" lengthAdjust="spacingAndGlyphs">FIO-ESM</text>
<text class="xt" transform="translate(1098,1074.5) rotate(-90)" textLength="97.39" lengthAdjust="spacingAndGlyphs">NOAA GFDL</text>
<text class="xt" transform="translate(1124.3,1073.5) rotate(-90)" textLength="90.84" lengthAdjust="spacingAndGlyphs">NASA GISS</text>
<text class="xt" transform="translate(1150.6,1073) rotate(-90)" textLength="49.6" lengthAdjust="spacingAndGlyphs">MOHC</text>
<text class="xt" transform="translate(1176.9,1073) rotate(-90)" textLength="35.62" lengthAdjust="spacingAndGlyphs">IPSL</text>
<text class="xt" transform="translate(1203.2,1074) rotate(-90)" textLength="52.45" lengthAdjust="spacingAndGlyphs">MIROC</text>
<text class="xt" transform="translate(1229.5,1074) rotate(-90)" textLength="47.82" lengthAdjust="spacingAndGlyphs">MPI-M</text>
<text class="xt" transform="translate(1255.8,1075) rotate(-90)" textLength="28.47" lengthAdjust="spacingAndGlyphs">MRI</text>
<text class="xt" transform="translate(1282.1,1073.5) rotate(-90)" textLength="34.85" lengthAdjust="spacingAndGlyphs">NCC</text>
<text class="xt" transform="translate(1308.4,1073) rotate(-90)" textLength="32.57" lengthAdjust="spacingAndGlyphs">BCC</text>
<text class="xt" transform="translate(1334.7,1074.5) rotate(-90)" textLength="64.59" lengthAdjust="spacingAndGlyphs">inmcm4</text>
<text class="yl" transform="translate(721.2,669.3) rotate(-90)" textLength="239.4" lengthAdjust="spacingAndGlyphs">Independence scaling</text>
<text class="t" x="798.9" y="18.9" textLength="498.5" lengthAdjust="spacingAndGlyphs">(b) RMSE independence, nine JJA predictors</text>
</g>
<g>
<line x1="1512.5" y1="970.4" x2="2044.7" y2="970.4" stroke="#e2e2e2" stroke-width="2.4"/>
<line x1="1512.5" y1="877.6" x2="2044.7" y2="877.6" stroke="#e2e2e2" stroke-width="2.4"/>
<line x1="1512.5" y1="783.5" x2="2044.7" y2="783.5" stroke="#e2e2e2" stroke-width="2.4"/>
<line x1="1512.5" y1="689.4" x2="2044.7" y2="689.4" stroke="#e2e2e2" stroke-width="2.4"/>
<line x1="1512.5" y1="595.3" x2="2044.7" y2="595.3" stroke="#e2e2e2" stroke-width="2.4"/>
<line x1="1512.5" y1="502.6" x2="2044.7" y2="502.6" stroke="#e2e2e2" stroke-width="2.4"/>
<line x1="1512.5" y1="408.5" x2="2044.7" y2="408.5" stroke="#e2e2e2" stroke-width="2.4"/>
<line x1="1512.5" y1="314.4" x2="2044.7" y2="314.4" stroke="#e2e2e2" stroke-width="2.4"/>
<line x1="1512.5" y1="220.3" x2="2044.7" y2="220.3" stroke="#e2e2e2" stroke-width="2.4"/>
<line x1="1512.5" y1="127.6" x2="2044.7" y2="127.6" stroke="#e2e2e2" stroke-width="2.4"/>
<rect x="1522.15" y="1046.15" width="13" height="18.75" fill="#cccccc"/>
<rect x="1548.45" y="1055.52" width="13" height="9.38" fill="#cccccc"/>
<rect x="1574.75" y="502.26" width="13" height="562.64" fill="#cccccc"/>
<rect x="1601.05" y="1036.77" width="13" height="28.13" fill="#cccccc"/>
<rect x="1627.35" y="1018.01" width="13" height="46.89" fill="#cccccc"/>
<rect x="1653.65" y="971.13" width="13" height="93.77" fill="#cccccc"/>
<rect x="1679.95" y="549.15" width="13" height="515.75" fill="#cccccc"/>
<rect x="1706.25" y="1018.01" width="13" height="46.89" fill="#cccccc"/>
<rect x="1732.55" y="1055.52" width="13" height="9.38" fill="#cccccc"/>
<rect x="1758.85" y="1036.77" width="13" height="28.13" fill="#cccccc"/>
<rect x="1785.15" y="1036.77" width="13" height="28.13" fill="#cccccc"/>
<rect x="1811.45" y="952.37" width="13" height="112.53" fill="#cccccc"/>
<rect x="1837.75" y="1008.64" width="13" height="56.26" fill="#cccccc"/>
<rect x="1864.05" y="1008.64" width="13" height="56.26" fill="#cccccc"/>
<rect x="1890.35" y="1018.01" width="13" height="46.89" fill="#cccccc"/>
<rect x="1916.65" y="89.66" width="13" height="975.24" fill="#cccccc"/>
<rect x="1942.95" y="1046.15" width="13" height="18.75" fill="#cccccc"/>
<rect x="1969.25" y="1046.15" width="13" height="18.75" fill="#cccccc"/>
<rect x="1995.55" y="1046.15" width="13" height="18.75" fill="#cccccc"/>
<rect x="2021.85" y="1055.52" width="13" height="9.38" fill="#cccccc"/>
<mask id="m2" maskUnits="userSpaceOnUse" x="0" y="0" width="2067" height="1205">
<rect x="1522.15" y="0" width="13" height="1205" fill="#fff"/>
<rect x="1548.45" y="0" width="13" height="1205" fill="#fff"/>
<rect x="1574.75" y="0" width="13" height="1205" fill="#fff"/>
<rect x="1601.05" y="0" width="13" height="1205" fill="#fff"/>
<rect x="1627.35" y="0" width="13" height="1205" fill="#fff"/>
<rect x="1653.65" y="0" width="13" height="1205" fill="#fff"/>
<rect x="1679.95" y="0" width="13" height="1205" fill="#fff"/>
<rect x="1706.25" y="0" width="13" height="1205" fill="#fff"/>
<rect x="1732.55" y="0" width="13" height="1205" fill="#fff"/>
<rect x="1758.85" y="0" width="13" height="1205" fill="#fff"/>
<rect x="1785.15" y="0" width="13" height="1205" fill="#fff"/>
<rect x="1811.45" y="0" width="13" height="1205" fill="#fff"/>
<rect x="1837.75" y="0" width="13" height="1205" fill="#fff"/>
<rect x="1864.05" y="0" width="13" height="1205" fill="#fff"/>
<rect x="1890.35" y="0" width="13" height="1205" fill="#fff"/>
<rect x="1916.65" y="0" width="13" height="1205" fill="#fff"/>
<rect x="1942.95" y="0" width="13" height="1205" fill="#fff"/>
<rect x="1969.25" y="0" width="13" height="1205" fill="#fff"/>
<rect x="1995.55" y="0" width="13" height="1205" fill="#fff"/>
<rect x="2021.85" y="0" width="13" height="1205" fill="#fff"/>
</mask>
<g mask="url(#m2)">
<g fill="#0000ff" fill-opacity="0.72">
<rect x="1521" y="999.53" width="16" height="1.9"/>
<rect x="1521" y="1031.22" width="16" height="1.9"/>
</g>
<g fill="#0000ff" fill-opacity="0.72">
<rect x="1547" y="1044.16" width="16" height="1.9"/>
</g>
<g fill="#ff0000" fill-opacity="0.72">
<rect x="1573" y="617.4" width="16" height="1.9"/>
<rect x="1573" y="617.17" width="16" height="1.9"/>
<rect x="1573" y="616.85" width="16" height="1.9"/>
<rect x="1573" y="616.46" width="16" height="1.9"/>
<rect x="1573" y="616.31" width="16" height="1.9"/>
<rect x="1573" y="615.9" width="16" height="1.9"/>
<rect x="1573" y="615.63" width="16" height="1.9"/>
<rect x="1573" y="615.42" width="16" height="1.9"/>
<rect x="1573" y="615.05" width="16" height="1.9"/>
<rect x="1573" y="614.69" width="16" height="1.9"/>
<rect x="1573" y="614.42" width="16" height="1.9"/>
<rect x="1573" y="614.21" width="16" height="1.9"/>
<rect x="1573" y="613.72" width="16" height="1.9"/>
<rect x="1573" y="613.46" width="16" height="1.9"/>
<rect x="1573" y="613.13" width="16" height="1.9"/>
<rect x="1573" y="613.01" width="16" height="1.9"/>
<rect x="1573" y="612.68" width="16" height="1.9"/>
<rect x="1573" y="612.43" width="16" height="1.9"/>
<rect x="1573" y="611.97" width="16" height="1.9"/>
<rect x="1573" y="611.78" width="16" height="1.9"/>
<rect x="1573" y="611.51" width="16" height="1.9"/>
<rect x="1573" y="611.15" width="16" height="1.9"/>
<rect x="1573" y="610.75" width="16" height="1.9"/>
<rect x="1573" y="610.47" width="16" height="1.9"/>
<rect x="1573" y="610.29" width="16" height="1.9"/>
<rect x="1573" y="610.01" width="16" height="1.9"/>
<rect x="1573" y="609.55" width="16" height="1.9"/>
<rect x="1573" y="609.33" width="16" height="1.9"/>
<rect x="1573" y="609" width="16" height="1.9"/>
<rect x="1573" y="608.83" width="16" height="1.9"/>
<rect x="1573" y="608.54" width="16" height="1.9"/>
<rect x="1573" y="608.11" width="16" height="1.9"/>
<rect x="1573" y="607.87" width="16" height="1.9"/>
<rect x="1573" y="607.64" width="16" height="1.9"/>
<rect x="1573" y="607.16" width="16" height="1.9"/>
<rect x="1573" y="606.93" width="16" height="1.9"/>
<rect x="1573" y="606.59" width="16" height="1.9"/>
<rect x="1573" y="606.45" width="16" height="1.9"/>
<rect x="1573" y="605.99" width="16" height="1.9"/>
<rect x="1573" y="605.85" width="16" height="1.9"/>
<rect x="1573" y="605.39" width="16" height="1.9"/>
<rect x="1573" y="605.17" width="16" height="1.9"/>
<rect x="1573" y="604.9" width="16" height="1.9"/>
<rect x="1573" y="604.56" width="16" height="1.9"/>
<rect x="1573" y="604.18" width="16" height="1.9"/>
<rect x="1573" y="604.02" width="16" height="1.9"/>
<rect x="1573" y="603.75" width="16" height="1.9"/>
<rect x="1573" y="603.37" width="16" height="1.9"/>
<rect x="1573" y="603.13" width="16" height="1.9"/>
<rect x="1573" y="602.86" width="16" height="1.9"/>
</g>
<g fill="#0000ff" fill-opacity="0.72">
<rect x="1573" y="958.17" width="16" height="1.9"/>
<rect x="1573" y="958.83" width="16" height="1.9"/>
<rect x="1573" y="997.28" width="16" height="1.9"/>
<rect x="1573" y="998.22" width="16" height="1.9"/>
<rect x="1573" y="998.97" width="16" height="1.9"/>
</g>
<g fill="#0000ff" fill-opacity="0.72">
<rect x="1600" y="969.9" width="16" height="1.9"/>
<rect x="1600" y="1028.04" width="16" height="1.9"/>
<rect x="1600" y="1049.23" width="16" height="1.9"/>
</g>
<g fill="#0000ff" fill-opacity="0.72">
<rect x="1626" y="1000.75" width="16" height="1.9"/>
<rect x="1626" y="1001.5" width="16" height="1.9"/>
<rect x="1626" y="1001.78" width="16" height="1.9"/>
</g>
<g fill="#0000ff" fill-opacity="0.72">
<rect x="1652" y="972.24" width="16" height="1.9"/>
<rect x="1652" y="972.07" width="16" height="1.9"/>
<rect x="1652" y="971.79" width="16" height="1.9"/>
<rect x="1652" y="971.52" width="16" height="1.9"/>
<rect x="1652" y="971.27" width="16" height="1.9"/>
<rect x="1652" y="970.94" width="16" height="1.9"/>
<rect x="1652" y="970.78" width="16" height="1.9"/>
<rect x="1652" y="970.49" width="16" height="1.9"/>
<rect x="1652" y="970.3" width="16" height="1.9"/>
<rect x="1652" y="970.02" width="16" height="1.9"/>
</g>
<g fill="#f0a500" fill-opacity="0.72">
<rect x="1678" y="545.57" width="16" height="1.9"/>
<rect x="1678" y="546.23" width="16" height="1.9"/>
<rect x="1678" y="552.33" width="16" height="1.9"/>
<rect x="1678" y="552.89" width="16" height="1.9"/>
<rect x="1678" y="557.01" width="16" height="1.9"/>
<rect x="1678" y="557.67" width="16" height="1.9"/>
<rect x="1678" y="557.95" width="16" height="1.9"/>
</g>
<g fill="#0000ff" fill-opacity="0.72">
<rect x="1678" y="543.51" width="16" height="1.9"/>
<rect x="1678" y="548.95" width="16" height="1.9"/>
<rect x="1678" y="549.7" width="16" height="1.9"/>
<rect x="1678" y="550.26" width="16" height="1.9"/>
</g>
<g fill="#0000ff" fill-opacity="0.72">
<rect x="1705" y="979.93" width="16" height="1.9"/>
<rect x="1705" y="979.43" width="16" height="1.9"/>
<rect x="1705" y="978.92" width="16" height="1.9"/>
<rect x="1705" y="978" width="16" height="1.9"/>
<rect x="1705" y="977.49" width="16" height="1.9"/>
</g>
<g fill="#0000ff" fill-opacity="0.72">
<rect x="1731" y="1054.2" width="16" height="1.9"/>
</g>
<g fill="#0000ff" fill-opacity="0.72">
<rect x="1757" y="1027.47" width="16" height="1.9"/>
<rect x="1757" y="1028.5" width="16" height="1.9"/>
<rect x="1757" y="1029.44" width="16" height="1.9"/>
</g>
<g fill="#0000ff" fill-opacity="0.72">
<rect x="1784" y="1008.06" width="16" height="1.9"/>
<rect x="1784" y="1049.23" width="16" height="1.9"/>
</g>
<g fill="#0000ff" fill-opacity="0.72">
<rect x="1810" y="989.12" width="16" height="1.9"/>
<rect x="1810" y="988.4" width="16" height="1.9"/>
<rect x="1810" y="987.44" width="16" height="1.9"/>
<rect x="1810" y="987.13" width="16" height="1.9"/>
<rect x="1810" y="986.04" width="16" height="1.9"/>
<rect x="1810" y="985.51" width="16" height="1.9"/>
<rect x="1810" y="984.75" width="16" height="1.9"/>
<rect x="1810" y="983.84" width="16" height="1.9"/>
<rect x="1810" y="983.34" width="16" height="1.9"/>
<rect x="1810" y="982.56" width="16" height="1.9"/>
<rect x="1810" y="992.87" width="16" height="1.9"/>
<rect x="1810" y="993.34" width="16" height="1.9"/>
</g>
<g fill="#0000ff" fill-opacity="0.72">
<rect x="1836" y="970.93" width="16" height="1.9"/>
<rect x="1836" y="973.83" width="16" height="1.9"/>
<rect x="1836" y="978.71" width="16" height="1.9"/>
<rect x="1836" y="989.78" width="16" height="1.9"/>
<rect x="1836" y="1007.87" width="16" height="1.9"/>
</g>
<g fill="#0000ff" fill-opacity="0.72">
<rect x="1863" y="1024.28" width="16" height="1.9"/>
<rect x="1863" y="1024.85" width="16" height="1.9"/>
<rect x="1863" y="1043.79" width="16" height="1.9"/>
<rect x="1863" y="1053.92" width="16" height="1.9"/>
</g>
<g fill="#0000ff" fill-opacity="0.72">
<rect x="1889" y="1034.32" width="16" height="1.9"/>
<rect x="1889" y="1034.69" width="16" height="1.9"/>
<rect x="1889" y="1043.13" width="16" height="1.9"/>
<rect x="1889" y="1043.51" width="16" height="1.9"/>
</g>
<g fill="#008000" fill-opacity="0.72">
<rect x="1915" y="137.63" width="16" height="1.9"/>
<rect x="1915" y="137.33" width="16" height="1.9"/>
<rect x="1915" y="137.2" width="16" height="1.9"/>
<rect x="1915" y="136.87" width="16" height="1.9"/>
<rect x="1915" y="136.64" width="16" height="1.9"/>
<rect x="1915" y="136.41" width="16" height="1.9"/>
<rect x="1915" y="136.2" width="16" height="1.9"/>
<rect x="1915" y="135.97" width="16" height="1.9"/>
<rect x="1915" y="135.77" width="16" height="1.9"/>
<rect x="1915" y="135.51" width="16" height="1.9"/>
<rect x="1915" y="135.27" width="16" height="1.9"/>
<rect x="1915" y="134.91" width="16" height="1.9"/>
<rect x="1915" y="134.75" width="16" height="1.9"/>
<rect x="1915" y="134.52" width="16" height="1.9"/>
<rect x="1915" y="134.29" width="16" height="1.9"/>
<rect x="1915" y="133.91" width="16" height="1.9"/>
<rect x="1915" y="133.66" width="16" height="1.9"/>
<rect x="1915" y="133.45" width="16" height="1.9"/>
<rect x="1915" y="133.27" width="16" height="1.9"/>
<rect x="1915" y="133.03" width="16" height="1.9"/>
<rect x="1915" y="132.77" width="16" height="1.9"/>
<rect x="1915" y="132.5" width="16" height="1.9"/>
<rect x="1915" y="132.3" width="16" height="1.9"/>
<rect x="1915" y="132.01" width="16" height="1.9"/>
<rect x="1915" y="131.79" width="16" height="1.9"/>
<rect x="1915" y="131.43" width="16" height="1.9"/>
<rect x="1915" y="131.18" width="16" height="1.9"/>
<rect x="1915" y="131.01" width="16" height="1.9"/>
<rect x="1915" y="130.81" width="16" height="1.9"/>
<rect x="1915" y="130.44" width="16" height="1.9"/>
<rect x="1915" y="130.31" width="16" height="1.9"/>
<rect x="1915" y="130.05" width="16" height="1.9"/>
<rect x="1915" y="129.87" width="16" height="1.9"/>
<rect x="1915" y="129.56" width="16" height="1.9"/>
<rect x="1915" y="129.29" width="16" height="1.9"/>
<rect x="1915" y="129.04" width="16" height="1.9"/>
<rect x="1915" y="128.85" width="16" height="1.9"/>
<rect x="1915" y="128.55" width="16" height="1.9"/>
<rect x="1915" y="128.39" width="16" height="1.9"/>
<rect x="1915" y="128.1" width="16" height="1.9"/>
<rect x="1915" y="127.88" width="16" height="1.9"/>
<rect x="1915" y="127.58" width="16" height="1.9"/>
<rect x="1915" y="127.4" width="16" height="1.9"/>
<rect x="1915" y="127.16" width="16" height="1.9"/>
<rect x="1915" y="126.86" width="16" height="1.9"/>
<rect x="1915" y="126.63" width="16" height="1.9"/>
<rect x="1915" y="126.32" width="16" height="1.9"/>
<rect x="1915" y="126.08" width="16" height="1.9"/>
<rect x="1915" y="125.8" width="16" height="1.9"/>
<rect x="1915" y="125.57" width="16" height="1.9"/>
<rect x="1915" y="125.31" width="16" height="1.9"/>
<rect x="1915" y="125.04" width="16" height="1.9"/>
<rect x="1915" y="124.88" width="16" height="1.9"/>
<rect x="1915" y="124.64" width="16" height="1.9"/>
<rect x="1915" y="124.28" width="16" height="1.9"/>
<rect x="1915" y="124.18" width="16" height="1.9"/>
<rect x="1915" y="123.83" width="16" height="1.9"/>
<rect x="1915" y="123.6" width="16" height="1.9"/>
<rect x="1915" y="123.46" width="16" height="1.9"/>
<rect x="1915" y="123.08" width="16" height="1.9"/>
<rect x="1915" y="122.82" width="16" height="1.9"/>
<rect x="1915" y="122.62" width="16" height="1.9"/>
<rect x="1915" y="122.35" width="16" height="1.9"/>
<rect x="1915" y="122.09" width="16" height="1.9"/>
<rect x="1915" y="121.96" width="16" height="1.9"/>
<rect x="1915" y="121.65" width="16" height="1.9"/>
<rect x="1915" y="121.41" width="16" height="1.9"/>
<rect x="1915" y="121.11" width="16" height="1.9"/>
<rect x="1915" y="120.86" width="16" height="1.9"/>
<rect x="1915" y="120.61" width="16" height="1.9"/>
<rect x="1915" y="120.41" width="16" height="1.9"/>
<rect x="1915" y="120.11" width="16" height="1.9"/>
<rect x="1915" y="119.9" width="16" height="1.9"/>
<rect x="1915" y="119.65" width="16" height="1.9"/>
<rect x="1915" y="119.49" width="16" height="1.9"/>
<rect x="1915" y="119.27" width="16" height="1.9"/>
<rect x="1915" y="119.01" width="16" height="1.9"/>
<rect x="1915" y="118.72" width="16" height="1.9"/>
<rect x="1915" y="118.52" width="16" height="1.9"/>
<rect x="1915" y="118.15" width="16" height="1.9"/>
<rect x="1915" y="117.95" width="16" height="1.9"/>
<rect x="1915" y="117.69" width="16" height="1.9"/>
<rect x="1915" y="117.45" width="16" height="1.9"/>
<rect x="1915" y="117.19" width="16" height="1.9"/>
<rect x="1915" y="116.98" width="16" height="1.9"/>
<rect x="1915" y="116.82" width="16" height="1.9"/>
<rect x="1915" y="116.43" width="16" height="1.9"/>
<rect x="1915" y="116.19" width="16" height="1.9"/>
<rect x="1915" y="115.99" width="16" height="1.9"/>
<rect x="1915" y="115.74" width="16" height="1.9"/>
<rect x="1915" y="115.47" width="16" height="1.9"/>
<rect x="1915" y="115.33" width="16" height="1.9"/>
<rect x="1915" y="114.97" width="16" height="1.9"/>
<rect x="1915" y="114.8" width="16" height="1.9"/>
<rect x="1915" y="114.59" width="16" height="1.9"/>
<rect x="1915" y="114.31" width="16" height="1.9"/>
<rect x="1915" y="113.98" width="16" height="1.9"/>
<rect x="1915" y="113.83" width="16" height="1.9"/>
<rect x="1915" y="113.49" width="16" height="1.9"/>
<rect x="1915" y="113.28" width="16" height="1.9"/>
</g>
<g fill="#0000ff" fill-opacity="0.72">
<rect x="1915" y="399.85" width="16" height="1.9"/>
<rect x="1915" y="412.79" width="16" height="1.9"/>
<rect x="1915" y="413.35" width="16" height="1.9"/>
<rect x="1915" y="466.99" width="16" height="1.9"/>
</g>
<g fill="#0000ff" fill-opacity="0.72">
<rect x="1941" y="1045.01" width="16" height="1.9"/>
<rect x="1941" y="1045.57" width="16" height="1.9"/>
</g>
<g fill="#0000ff" fill-opacity="0.72">
<rect x="1968" y="1034.51" width="16" height="1.9"/>
<rect x="1968" y="1039.01" width="16" height="1.9"/>
</g>
<g fill="#0000ff" fill-opacity="0.72">
<rect x="1994" y="1038.63" width="16" height="1.9"/>
<rect x="1994" y="1050.07" width="16" height="1.9"/>
<rect x="1994" y="1050.45" width="16" height="1.9"/>
</g>
<g fill="#0000ff" fill-opacity="0.72">
<rect x="2020" y="1052.23" width="16" height="1.9"/>
</g>
</g>
<g stroke="#383838" stroke-width="3.1" fill="none">
<line x1="1500" y1="33.4" x2="2057.6" y2="33.4"/>
<line x1="1500" y1="1064.9" x2="2057.6" y2="1064.9"/>
<line x1="1512.5" y1="33.4" x2="1512.5" y2="1064.9"/>
<line x1="2044.7" y1="33.4" x2="2044.7" y2="1064.9"/>
<line x1="1500" y1="970.4" x2="1512.5" y2="970.4"/>
<line x1="2044.7" y1="970.4" x2="2057.6" y2="970.4"/>
<line x1="1500" y1="877.6" x2="1512.5" y2="877.6"/>
<line x1="2044.7" y1="877.6" x2="2057.6" y2="877.6"/>
<line x1="1500" y1="783.5" x2="1512.5" y2="783.5"/>
<line x1="2044.7" y1="783.5" x2="2057.6" y2="783.5"/>
<line x1="1500" y1="689.4" x2="1512.5" y2="689.4"/>
<line x1="2044.7" y1="689.4" x2="2057.6" y2="689.4"/>
<line x1="1500" y1="595.3" x2="1512.5" y2="595.3"/>
<line x1="2044.7" y1="595.3" x2="2057.6" y2="595.3"/>
<line x1="1500" y1="502.6" x2="1512.5" y2="502.6"/>
<line x1="2044.7" y1="502.6" x2="2057.6" y2="502.6"/>
<line x1="1500" y1="408.5" x2="1512.5" y2="408.5"/>
<line x1="2044.7" y1="408.5" x2="2057.6" y2="408.5"/>
<line x1="1500" y1="314.4" x2="1512.5" y2="314.4"/>
<line x1="2044.7" y1="314.4" x2="2057.6" y2="314.4"/>
<line x1="1500" y1="220.3" x2="1512.5" y2="220.3"/>
<line x1="2044.7" y1="220.3" x2="2057.6" y2="220.3"/>
<line x1="1500" y1="127.6" x2="1512.5" y2="127.6"/>
<line x1="2044.7" y1="127.6" x2="2057.6" y2="127.6"/>
</g>
<text class="yt" transform="translate(1495.5,1073.5) scale(0.955,1)">0</text>
<text class="yt" transform="translate(1495.5,979) scale(0.955,1)">1/10</text>
<text class="yt" transform="translate(1495.5,886.2) scale(0.955,1)">1/20</text>
<text class="yt" transform="translate(1495.5,792.1) scale(0.955,1)">1/30</text>
<text class="yt" transform="translate(1495.5,698) scale(0.955,1)">1/40</text>
<text class="yt" transform="translate(1495.5,603.9) scale(0.955,1)">1/50</text>
<text class="yt" transform="translate(1495.5,511.2) scale(0.955,1)">1/60</text>
<text class="yt" transform="translate(1495.5,417.1) scale(0.955,1)">1/70</text>
<text class="yt" transform="translate(1495.5,323) scale(0.955,1)">1/80</text>
<text class="yt" transform="translate(1495.5,228.9) scale(0.955,1)">1/90</text>
<text class="yt" transform="translate(1495.5,136.2) scale(0.922,1)">1/100</text>
<text class="yt" transform="translate(1495.5,42) scale(0.922,1)">1/110</text>
<text class="xt" transform="translate(1534.25,1074.5) rotate(-90)" textLength="64.59" lengthAdjust="spacingAndGlyphs">ACCESS</text>
<text class="xt" transform="translate(1560.55,1070) rotate(-90)" textLength="75.04" lengthAdjust="spacingAndGlyphs">BNU-ESM</text>
<text class="xt" transform="translate(1586.85,1074) rotate(-90)" textLength="47.48" lengthAdjust="spacingAndGlyphs">NCAR</text>
<text class="xt" transform="translate(1613.15,1074) rotate(-90)" textLength="48.03" lengthAdjust="spacingAndGlyphs">CMCC</text>
<text class="xt" transform="translate(1639.45,1072.5) rotate(-90)" textLength="88.39" lengthAdjust="spacingAndGlyphs">CNRM-CM5</text>
<text class="xt" transform="translate(1665.75,1076) rotate(-90)" textLength="123.79" lengthAdjust="spacingAndGlyphs">CSIRO-Mk3-6-0</text>
<text class="xt" transform="translate(1692.05,1076) rotate(-90)" textLength="55.99" lengthAdjust="spacingAndGlyphs">CCCma</text>
<text class="xt" transform="translate(1718.35,1075) rotate(-90)" textLength="82.4" lengthAdjust="spacingAndGlyphs">EC-EARTH</text>
<text class="xt" transform="translate(1744.65,1074) rotate(-90)" textLength="94" lengthAdjust="spacingAndGlyphs">FGOALS-g2</text>
<text class="xt" transform="translate(1770.95,1075.5) rotate(-90)" textLength="66.63" lengthAdjust="spacingAndGlyphs">FIO-ESM</text>
<text class="xt" transform="translate(1797.25,1074.5) rotate(-90)" textLength="97.39" lengthAdjust="spacingAndGlyphs">NOAA GFDL</text>
<text class="xt" transform="translate(1823.55,1073.5) rotate(-90)" textLength="90.84" lengthAdjust="spacingAndGlyphs">NASA GISS</text>
<text class="xt" transform="translate(1849.85,1073) rotate(-90)" textLength="49.6" lengthAdjust="spacingAndGlyphs">MOHC</text>
<text class="xt" transform="translate(1876.15,1073) rotate(-90)" textLength="35.62" lengthAdjust="spacingAndGlyphs">IPSL</text>
<text class="xt" transform="translate(1902.45,1074) rotate(-90)" textLength="52.45" lengthAdjust="spacingAndGlyphs">MIROC</text>
<text class="xt" transform="translate(1928.75,1074) rotate(-90)" textLength="47.82" lengthAdjust="spacingAndGlyphs">MPI-M</text>
<text class="xt" transform="translate(1955.05,1075) rotate(-90)" textLength="28.47" lengthAdjust="spacingAndGlyphs">MRI</text>
<text class="xt" transform="translate(1981.35,1073.5) rotate(-90)" textLength="34.85" lengthAdjust="spacingAndGlyphs">NCC</text>
<text class="xt" transform="translate(2007.65,1073) rotate(-90)" textLength="32.57" lengthAdjust="spacingAndGlyphs">BCC</text>
<text class="xt" transform="translate(2033.95,1074.5) rotate(-90)" textLength="64.59" lengthAdjust="spacingAndGlyphs">inmcm4</text>
<text class="yl" transform="translate(1422,669.3) rotate(-90)" textLength="239.4" lengthAdjust="spacingAndGlyphs">Independence scaling</text>
<text class="t" x="1506.2" y="18.9" textLength="532.8" lengthAdjust="spacingAndGlyphs">(c) RMSE independence, annual CLIM predictors</text>
</g>
<g>
<rect x="144.7" y="63.9" width="43.1" height="14" fill="#cccccc"/>
<text class="t" x="198.4" y="77.9" textLength="247.0" lengthAdjust="spacingAndGlyphs">1/N, modelling center</text>
<line x1="148.8" y1="108.9" x2="184.9" y2="108.9" stroke="#0033ff" stroke-width="1.9"/>
<text class="lg" x="194.9" y="117.6" textLength="62.6" lengthAdjust="spacingAndGlyphs">CMIP5</text>
<line x1="148.8" y1="141.6" x2="184.9" y2="141.6" stroke="#ee1111" stroke-width="1.9"/>
<text class="lg" x="193.8" y="151.2" textLength="144.2" lengthAdjust="spacingAndGlyphs">CESM1.2.2-LE</text>
<line x1="148.8" y1="175.6" x2="184.9" y2="175.6" stroke="#ffb000" stroke-width="1.9"/>
<text class="lg" x="193.8" y="185.5" textLength="127.1" lengthAdjust="spacingAndGlyphs">CanESM2-LE</text>
<line x1="148.8" y1="211" x2="184.9" y2="211" stroke="#0a7d0a" stroke-width="1.9"/>
<text class="lg" x="193.5" y="219.8" textLength="69" lengthAdjust="spacingAndGlyphs">MPI-GE</text>
</g>
</svg></body></html>
